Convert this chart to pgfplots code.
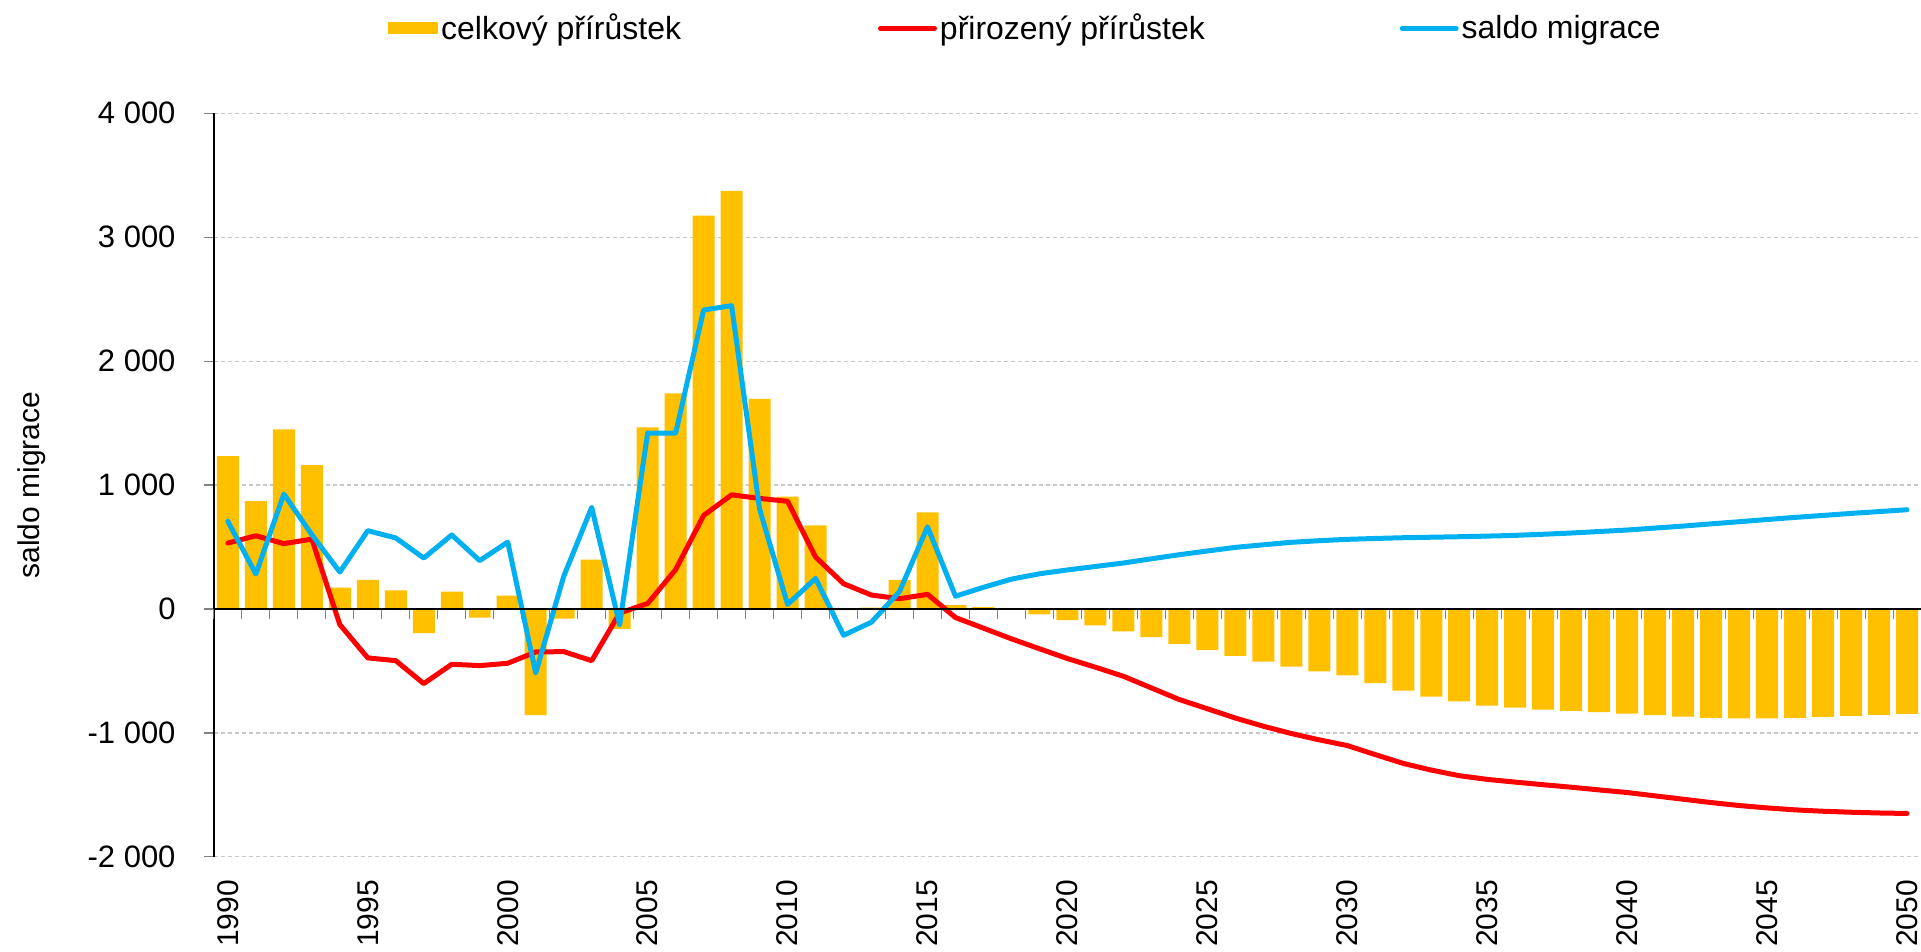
\documentclass[border=0pt]{standalone}
\usepackage{fontspec}
\setmainfont{Liberation Sans}
\usepackage{pgfplots}
\usepackage{pgfplotstable}
\pgfplotsset{compat=1.18}
\definecolor{barcol}{RGB}{255,192,0}
\definecolor{natcol}{RGB}{255,0,0}
\definecolor{migcol}{RGB}{0,176,240}
\definecolor{gridcol}{RGB}{200,200,200}
\pgfplotsset{
  lineleg/.style={legend image code/.code={\draw[##1] (0bp,0bp) -- (27bp,0bp);}},
  barleg/.style={legend image code/.code={\fill[barcol] (0bp,-3bp) rectangle (25bp,3bp);}},
}

% year, celkovy prirustek, prirozeny prirustek, saldo migrace
\pgfplotstableread{
year total natural migration
1990 1234 532 707
1991 871 591 282
1992 1449 527 927
1993 1161 564 600
1994 172 -126 298
1995 234 -395 632
1996 150 -417 573
1997 -194 -602 411
1998 140 -446 597
1999 -70 -457 390
2000 108 -438 540
2001 -857 -347 -516
2002 -78 -344 263
2003 398 -417 820
2004 -161 -32 -126
2005 1465 44 1420
2006 1739 318 1418
2007 3173 755 2413
2008 3374 921 2447
2009 1696 892 806
2010 907 869 37
2011 674 419 247
2012 -10 204 -212
2013 10 112 -106
2014 235 83 141
2015 780 118 663
2016 32 -69 103
2017 14 -155 175
2018 2 -241 241
2019 -43 -321 284
2020 -90 -400 315
2021 -133 -470 343
2022 -180 -543 371
2023 -228 -637 405
2024 -282 -731 438
2025 -331 -805 468
2026 -379 -880 497
2027 -425 -946 518
2028 -465 -1005 538
2029 -503 -1056 551
2030 -535 -1102 562
2031 -599 -1175 569
2032 -659 -1246 575
2033 -707 -1300 579
2034 -745 -1345 583
2035 -780 -1375 588
2036 -796 -1397 594
2037 -812 -1418 603
2038 -823 -1438 613
2039 -833 -1460 625
2040 -844 -1481 637
2041 -857 -1508 653
2042 -868 -1535 669
2043 -879 -1562 687
2044 -882 -1586 704
2045 -882 -1605 722
2046 -879 -1621 739
2047 -871 -1632 755
2048 -863 -1640 771
2049 -855 -1646 786
2050 -847 -1650 801
}\datatable

\begin{document}
\begin{tikzpicture}[font=\fontsize{15bp}{18bp}\selectfont]
\begin{axis}[
  scale only axis, width=854bp, height=372bp,
  xmin=1989.5, xmax=2050.5, ymin=-2000, ymax=4000,
  axis x line*=bottom, axis y line*=left,
  x axis line style={draw=none},
  y axis line style={black, line width=0.75bp},
  xtick={1990,1995,...,2050}, x tick style={draw=none},
  xticklabel style={rotate=90, anchor=east, inner sep=0pt},
  xticklabel shift=6.5bp,
  x tick label style={/pgf/number format/.cd, 1000 sep={}, assume math mode=true},
  ytick={-2000,-1000,...,4000},
  y tick style={gray, line width=0.6bp},
  tick align=outside, major tick length=5bp,
  yticklabel style={anchor=east, inner sep=0pt, font=\fontsize{15.5bp}{18bp}\selectfont},
  yticklabel shift=14bp,
  scaled y ticks=false,
  y tick label style={/pgf/number format/.cd, 1000 sep={\ }, assume math mode=true},
  ymajorgrids,
  major grid style={gridcol, line width=0.6bp, dash pattern=on 2bp off 1.5bp},
  ylabel={saldo migrace},
  every axis y label/.style={at={(axis description cs:0,0.5)}, xshift=-91bp, rotate=90, anchor=center},
  legend columns=3,
  legend style={at={(axis description cs:0,1)}, anchor=west, xshift=87bp, yshift=42.5bp,
    draw=none, fill=none, inner sep=0pt,
    font=\fontsize{16bp}{19bp}\selectfont,
    /tikz/column 2/.style={column sep=97bp},
    /tikz/column 4/.style={column sep=96bp},
    nodes={inner sep=1.5bp, anchor=west}},
  legend cell align=left,
]
\addplot[ybar, bar width=11bp, fill=barcol, draw=none, barleg]
  table[x=year, y=total] {\datatable};
\addlegendentry{celkový přírůstek}
\addplot[natcol, line width=2.5bp, line join=round, line cap=round, lineleg]
  table[x=year, y=natural] {\datatable};
\addlegendentry{přirozený přírůstek}
\addplot[migcol, line width=2.5bp, line join=round, line cap=round, lineleg]
  table[x=year, y=migration] {\datatable};
\addlegendentry{saldo migrace}
\end{axis}
% zero line with category ticks
\begin{axis}[
  scale only axis, width=854bp, height=372bp,
  xmin=1989.5, xmax=2050.5, ymin=-2000, ymax=4000,
  axis x line=middle, axis y line=none,
  axis line style={-, black, line width=0.75bp},
  xtick={1989.5,1990.5,...,2050.5}, xticklabels={},
  x tick style={gray, line width=0.5bp},
  tick align=outside, major tick length=5bp,
  ytick=\empty,
]
\end{axis}
\pgfresetboundingbox
\path[use as bounding box] (-107bp,-47.35bp) rectangle (854bp,428.65bp);
\end{tikzpicture}
\end{document}
